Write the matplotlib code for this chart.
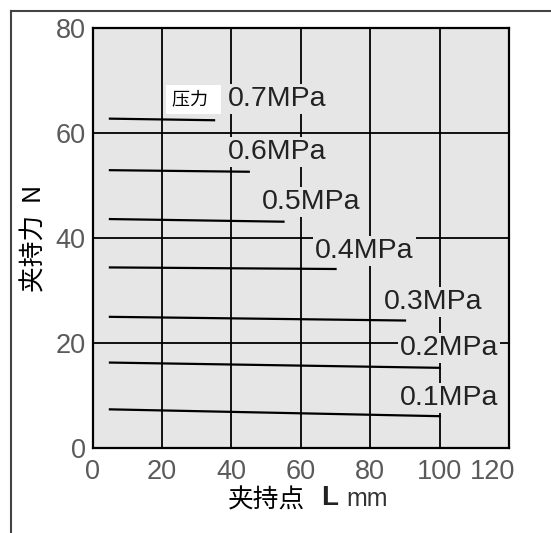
import matplotlib
matplotlib.use("Agg")
import matplotlib.pyplot as plt
from matplotlib.lines import Line2D
from matplotlib.transforms import ScaledTranslation

# clamping force vs clamping point, one line per supply pressure
pressures = ["0.1MPa", "0.2MPa", "0.3MPa", "0.4MPa", "0.5MPa", "0.6MPa", "0.7MPa"]
x_start = [5, 5, 5, 5, 5, 5, 5]
x_end = [100, 100, 90, 70, 55, 45, 35]
force_start = [7.4, 16.3, 25.0, 34.4, 43.6, 52.9, 62.7]
force_end = [6.1, 15.3, 24.3, 34.1, 43.1, 52.6, 62.4]

# label anchor (left edge, vertical centre) for each pressure
label_x = [88.6, 88.6, 83.8, 64.1, 48.7, 39.0, 39.0]
label_y = [9.6, 19.0, 27.9, 37.6, 46.8, 56.4, 66.5]

x_ticks = [0, 20, 40, 60, 80, 100, 120]
y_ticks = [0, 20, 40, 60, 80]

CJK = ["Noto Sans CJK SC", "DejaVu Sans"]
LATIN = ["Liberation Sans", "DejaVu Sans"]
BG = "#e6e6e6"

fig = plt.figure(figsize=(5.51, 5.33), dpi=100)
ax = fig.add_axes([0.168, 0.159, 0.756, 0.789])
ax.set_facecolor(BG)

for x in x_ticks[1:-1]:
    ax.axvline(x, color="black", lw=1.3, zorder=1)
for y in y_ticks[1:-1]:
    ax.axhline(y, color="black", lw=1.3, zorder=1)

for i, p in enumerate(pressures):
    ax.plot([x_start[i], x_end[i]], [force_start[i], force_end[i]],
            color="black", lw=1.6, zorder=2)
    ax.text(label_x[i], label_y[i], p, family=LATIN, fontsize=20.5,
            color="#222222", ha="left", va="center", zorder=3,
            bbox=dict(facecolor=BG, edgecolor="none", pad=1.5))

ax.text(22.8, 66.3, "压力  ", family=CJK, fontsize=13, color="black",
        ha="left", va="center", zorder=3,
        bbox=dict(facecolor="white", edgecolor="none", boxstyle="square,pad=0.3"))

ax.set_xlim(0, 120)
ax.set_ylim(0, 80)
ax.set_xticks(x_ticks)
ax.set_yticks(y_ticks)
ax.tick_params(length=0, labelsize=19.5, labelcolor="#5a5a5a")
ax.tick_params(axis="x", pad=8)
ax.tick_params(axis="y", pad=5)
for lab in ax.get_xticklabels() + ax.get_yticklabels():
    lab.set_family(LATIN)
# the last x label sits pulled in from the right edge in the original
last = ax.get_xticklabels()[-1]
last.set_transform(last.get_transform() + ScaledTranslation(-0.17, 0, fig.dpi_scale_trans))
for s in ax.spines.values():
    s.set_linewidth(1.6)
    s.set_color("black")

ax.set_ylabel("夹持力  N", family=CJK, fontsize=18.5, labelpad=6)

# x label: Chinese text, bold L, then mm
fig.text(0.414, 0.060, "夹持点", family=CJK, fontsize=18.5, ha="left", va="center")
fig.text(0.583, 0.066, "L", family=LATIN, fontsize=20, fontweight="bold",
         color="#222222", ha="left", va="center")
fig.text(0.628, 0.064, "mm", family=LATIN, fontsize=18, color="#333333",
         ha="left", va="center")

# outer frame (top and left edges only)
fig.add_artist(Line2D([0.0195, 1.0], [0.980, 0.980], transform=fig.transFigure,
                      color="#444444", lw=1.5))
fig.add_artist(Line2D([0.0195, 0.0195], [0.0, 0.980], transform=fig.transFigure,
                      color="#444444", lw=1.5))

fig.savefig("out.png", dpi=100)
